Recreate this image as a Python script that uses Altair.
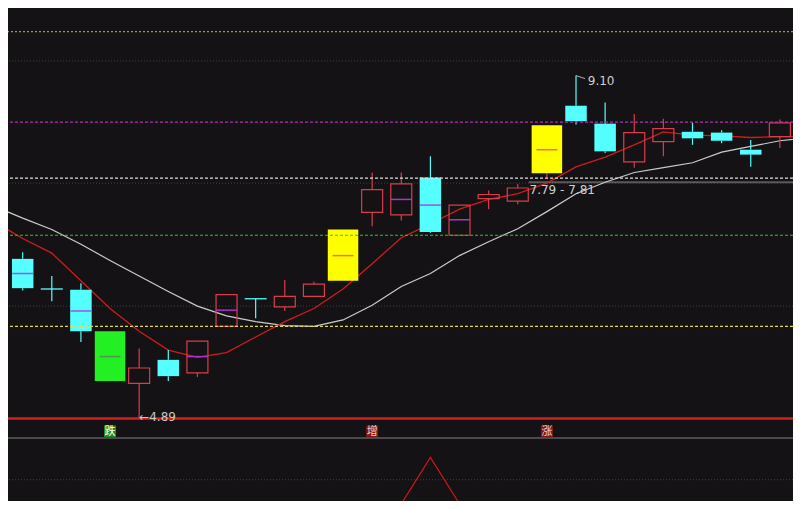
import altair as alt
import pandas as pd

# ---------------- data ----------------
kinds  = ["down", "down", "down", "green", "up", "down", "up", "up", "down", "up",
          "up", "yellow", "up", "up", "down", "up", "up", "up", "yellow", "down",
          "down", "up", "up", "down", "down", "down", "up"]
opens  = [6.85, 6.48, 6.47, 5.96, 5.32, 5.61, 5.45, 6.02, 6.36, 6.26,
          6.39, 6.58, 7.42, 7.39, 7.85, 7.14, 7.59, 7.56, 7.90, 8.73,
          8.51, 8.04, 8.29, 8.41, 8.40, 8.19, 8.35]
closes = [6.49, 6.48, 5.96, 5.35, 5.51, 5.41, 5.84, 6.41, 6.36, 6.39,
          6.54, 7.21, 7.70, 7.77, 7.18, 7.51, 7.64, 7.72, 8.49, 8.54,
          8.17, 8.40, 8.45, 8.33, 8.30, 8.13, 8.52]
highs  = [6.93, 6.64, 6.55, 5.96, 5.75, 5.73, 5.84, 6.41, 6.36, 6.59,
          6.57, 7.21, 7.91, 7.91, 8.11, 7.51, 7.69, 7.77, 8.49, 9.10,
          8.77, 8.63, 8.57, 8.52, 8.43, 8.31, 8.56]
lows   = [6.46, 6.33, 5.83, 5.35, 4.89, 5.35, 5.40, 6.02, 6.12, 6.21,
          6.39, 6.58, 7.25, 7.32, 7.17, 7.14, 7.46, 7.52, 7.83, 8.50,
          8.15, 7.97, 8.11, 8.25, 8.27, 7.98, 8.21]
mids   = [6.67, None, 6.21, 5.65, None, None, 5.65, 6.22, None, None,
          None, 6.89, None, 7.58, 7.51, 7.33, None, None, 8.19, None,
          None, None, None, None, None, None, None]

ma_index = list(range(-1, 28))
ma_short = [7.31, 7.10, 6.92, 6.58, 6.24, 5.96, 5.73, 5.64, 5.70, 5.89, 6.08,
            6.24, 6.48, 6.79, 7.11, 7.28, 7.46, 7.58, 7.65, 7.78, 7.98,
            8.10, 8.25, 8.41, 8.37, 8.36, 8.34, 8.35, 8.35]
ma_long  = [7.50, 7.35, 7.21, 7.03, 6.83, 6.64, 6.45, 6.27, 6.15, 6.08, 6.03,
            6.02, 6.10, 6.28, 6.51, 6.67, 6.89, 7.06, 7.22, 7.43, 7.65,
            7.79, 7.91, 7.97, 8.03, 8.16, 8.23, 8.30, 8.34]

grid_prices = [9.28, 7.78, 6.27]
level_olive, level_magenta, level_white, level_green, level_yellow = 9.64, 8.53, 7.84, 7.14, 6.02
low_price, high_price = 4.89, 9.10
band_lo, band_hi = 7.79, 7.81

signal_index = [3, 12, 18]
signal_text  = ["跌", "增", "涨"]
signal_kind  = ["down", "up", "up"]

indicator = [0] * 14 + [1] + [0] * 12

# ---------------- layout ----------------
W, H = 785, 493
SX, SY = W / 801, H / 509
TOP_PRICE = 9.93
PX_PER_UNIT = 84.09
BOT_PRICE = TOP_PRICE - 509 / PX_PER_UNIT

BG = "#141214"
CYAN = "#55ffff"
RED = "#d83e4a"
GREEN = "#22f022"
YELLOW = "#ffff00"

x_scale = alt.Scale(domain=[-10 / 30.1, 791 / 30.1], nice=False, zero=False)
y_scale = alt.Scale(domain=[BOT_PRICE, TOP_PRICE], nice=False, zero=False)
X = alt.X("i:Q", scale=x_scale, axis=None)


def Y(f):
    return alt.Y(f"{f}:Q", scale=y_scale, axis=None)


df = pd.DataFrame({"i": list(range(len(kinds))), "kind": kinds, "o": opens,
                   "h": highs, "l": lows, "c": closes, "m": mids})
df_ma = pd.DataFrame({"i": ma_index, "s": ma_short, "g": ma_long})

base = alt.Chart(df).transform_calculate(
    top="max(datum.o, datum.c)", bot="min(datum.o, datum.c)")

grid = alt.Chart(pd.DataFrame({"p": grid_prices})).mark_rule(
    color="#404040", strokeDash=[1, 2], strokeWidth=1).encode(y=Y("p"))


def level(p, color, dash):
    return alt.Chart(pd.DataFrame({"p": [p]})).mark_rule(
        color=color, strokeDash=dash, strokeWidth=1.2).encode(y=Y("p"))


band = alt.Chart(pd.DataFrame({"i": [17], "p": [band_lo]})).mark_rule(
    color="#5a5a5a", strokeWidth=2, xOffset=11).encode(x=X, x2=alt.value(W), y=Y("p"))

bottom_line = alt.Chart(pd.DataFrame({"p": [low_price]})).mark_rule(
    color="#d02020", strokeWidth=2.5).encode(y=Y("p"))

ma_s = alt.Chart(df_ma).mark_line(color="#d01c1c", strokeWidth=1.3, clip=True).encode(x=X, y=Y("s"))
ma_g = alt.Chart(df_ma).mark_line(color="#cccccc", strokeWidth=1.2, clip=True).encode(x=X, y=Y("g"))


def wicks(cond, color):
    sub = base.transform_filter(cond)
    up = sub.mark_rule(strokeWidth=1.2, color=color).encode(x=X, y=Y("h"), y2="top:Q")
    dn = sub.mark_rule(strokeWidth=1.2, color=color).encode(x=X, y=Y("bot"), y2="l:Q")
    return [up, dn]


def mid(cond, color):
    return base.transform_filter(cond + " && datum.m != null").mark_rule(
        strokeWidth=1.5, xOffset=-10.5, x2Offset=10.5, color=color).encode(
        x=X, x2="i:Q", y=Y("m"))


wick_layers = (wicks("datum.kind == 'down'", CYAN)
               + wicks("datum.kind == 'up' || datum.kind == 'yellow'", RED)
               + wicks("datum.kind == 'green'", GREEN))

body_up = base.transform_filter("datum.kind == 'up'").mark_bar(
    size=21, filled=False, stroke=RED, strokeWidth=1.2).encode(x=X, y=Y("o"), y2="c:Q")
body_dn = base.transform_filter("datum.kind == 'down' && datum.o != datum.c").mark_bar(
    size=21.5, color=CYAN).encode(x=X, y=Y("o"), y2="c:Q")
body_green = base.transform_filter("datum.kind == 'green'").mark_bar(
    size=30.5, color=GREEN).encode(x=X, y=Y("o"), y2="c:Q")
body_yellow = base.transform_filter("datum.kind == 'yellow'").mark_bar(
    size=30.5, color=YELLOW).encode(x=X, y=Y("o"), y2="c:Q")
doji = base.transform_filter("datum.o == datum.c").mark_rule(
    color=CYAN, strokeWidth=1.3, xOffset=-11, x2Offset=11).encode(x=X, x2="i:Q", y=Y("o"))

mid_layers = [mid("datum.kind == 'down'", "#a050f0"),
              mid("datum.kind == 'up'", "#b030c8"),
              mid("datum.kind == 'green'", "#4a9a4a"),
              mid("datum.kind == 'yellow'", "#ff6a40")]

hi_row = pd.DataFrame({"i": [19], "p": [high_price], "t": [f"{high_price:.2f}"]})
hook = alt.Chart(hi_row).mark_rule(color="#b0b0b0", strokeWidth=1, x2Offset=9, y2Offset=3).encode(
    x=X, x2="i:Q", y=Y("p"), y2="p:Q")
hi_text = alt.Chart(hi_row).mark_text(
    align="left", baseline="middle", dx=12 * SX, dy=5, fontSize=12,
    font="DejaVu Sans", color="#d0d0d0").encode(x=X, y=Y("p"), text="t:N")

lo_row = pd.DataFrame({"i": [4], "p": [low_price], "t": [f"←{low_price:.2f}"]})
lo_text = alt.Chart(lo_row).mark_text(
    align="left", baseline="middle", dx=0, dy=-1, fontSize=12,
    font="DejaVu Sans", color="#c8c8c8").encode(x=X, y=Y("p"), text="t:N")

band_row = pd.DataFrame({"i": [17], "p": [band_lo], "t": [f"{band_lo:.2f} - {band_hi:.2f}"]})
band_text = alt.Chart(band_row).mark_text(
    align="left", baseline="middle", dx=12 * SX, dy=8, fontSize=12,
    font="DejaVu Sans", color="#d0d0d0").encode(x=X, y=Y("p"), text="t:N")

sig = pd.DataFrame({"i": signal_index, "t": signal_text, "k": signal_kind})


def sig_layers(kind, box_color, text_color):
    sub = alt.Chart(sig).transform_filter(f"datum.k == '{kind}'")
    box = sub.mark_bar(size=12, color=box_color).encode(
        x=X, y=alt.value(431 * SY), y2=alt.value(443.5 * SY))
    txt = sub.mark_text(baseline="middle", fontSize=11, font="Noto Sans CJK SC",
                        color=text_color).encode(x=X, y=alt.value(437.5 * SY), text="t:N")
    return [box, txt]


sep = alt.Chart(pd.DataFrame({"a": [0]})).mark_rule(color="#4a4a4a", strokeWidth=2).encode(
    y=alt.value(444 * SY))
low_grid = alt.Chart(pd.DataFrame({"a": [0]})).mark_rule(
    color="#404040", strokeDash=[1, 2], strokeWidth=1).encode(y=alt.value(487 * SY))

price = alt.layer(
    grid, band, ma_g, ma_s,
    *wick_layers, body_up, body_dn, body_green, body_yellow, doji, *mid_layers,
    level(level_olive, "#949e44", [2, 2]),
    level(level_magenta, "#b030b4", [3, 2]),
    level(level_white, "#e0e0e0", [3, 2]),
    level(level_green, "#26c826", [3, 2]),
    level(level_yellow, "#e0d844", [3, 2]),
    bottom_line, hook, hi_text, lo_text, band_text,
    *sig_layers("down", "#1c8c1c", "#ffffff"),
    *sig_layers("up", "#7c1818", "#f4d0d0"),
    sep, low_grid,
)

ind_df = pd.DataFrame({"i": list(range(len(indicator))), "v": indicator})
lower = alt.Chart(ind_df).mark_line(color="#d01818", strokeWidth=1.2, clip=True).encode(
    x=X, y=alt.Y("v:Q", scale=alt.Scale(domain=[0, 1], range=[512 * SY, 464 * SY]), axis=None))

chart = alt.layer(price, lower).resolve_scale(y="independent").properties(
    width=W, height=H, padding=0, autosize="none"
).configure(background=BG).configure_view(stroke=None)

chart.save("out.html", embed_options={"renderer": "svg", "actions": False})
